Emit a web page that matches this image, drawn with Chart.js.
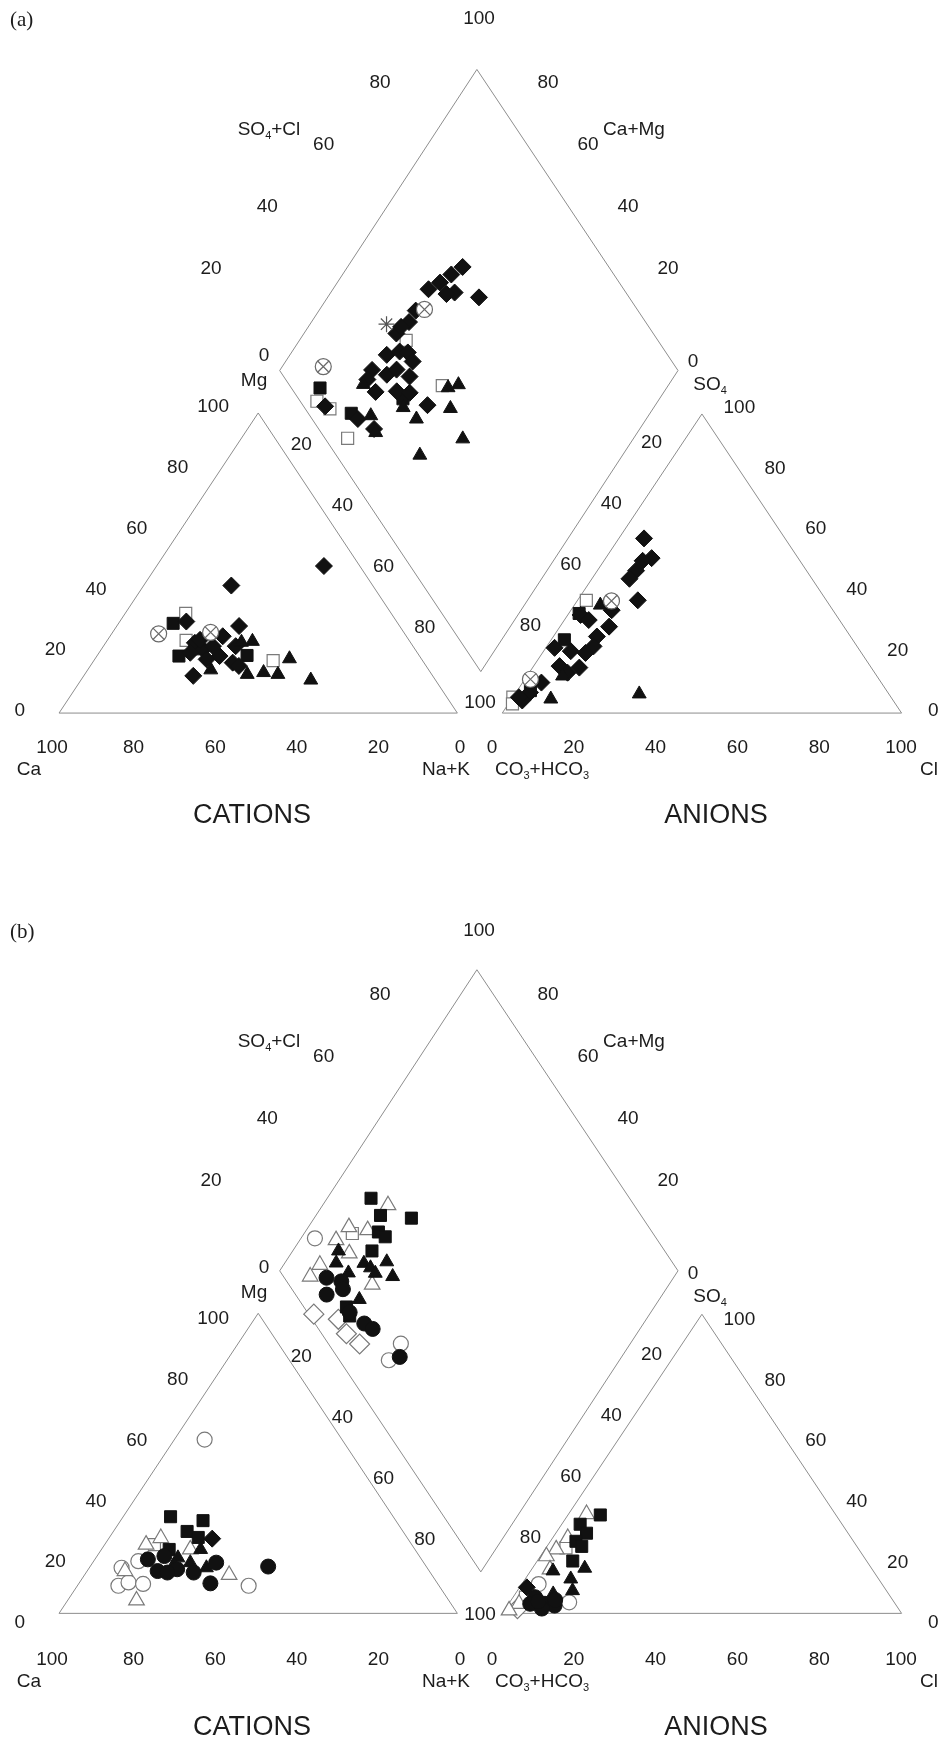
<!DOCTYPE html>
<html lang="en">
<head>
<meta charset="UTF-8" />
<title>Piper diagrams (a) and (b)</title>
<script src="https://cdn.jsdelivr.net/npm/chart.js"></script>
<style>
  * { box-sizing: border-box; margin: 0; padding: 0; }
  html, body { width: 945px; height: 1745px; background: #fff; overflow: hidden; }
  #wrap { position: relative; width: 945px; height: 1745px; }
</style>
</head>
<body>
<div id="wrap"><canvas id="piper" width="945" height="1745"></canvas></div>
<script>
// ---------------- data (percent) ----------------
const tickValues = [0, 20, 40, 60, 80, 100];
const panelNames = ['(a)', '(b)'];

// panel (a) cations: [Na+K, Mg]
const aCatFilledDiamond = [[42, 49], [22, 42.5], [16.7, 30.5], [30.7, 29], [27.5, 12.4], [22.4, 23.4], [25.6, 21.2],
  [27.5, 22.3], [28.3, 25.6], [30.8, 19], [28.1, 17.9], [35.2, 16.8], [37.3, 15.7], [22.9, 20.1], [23.2, 24.4], [33.2, 22.3]];
const aCatFilledSquare = [[13.7, 29.9], [20.6, 19], [37.6, 19.2], [23.4, 21.4]];
const aCatFilledTriangle = [[30.9, 14.4], [40.8, 12.9], [44.6, 13.5], [48.5, 12.9], [48.8, 18.1], [57.7, 11], [36.6, 23.9], [34, 23.6]];
const aCatOpenSquare = [[15.2, 33.2], [19.8, 24.2], [45, 17.5]];
const aCatCircleX = [[11.8, 26.4], [24.6, 26.9]];

// panel (a) anions: [Cl, SO4]
const aAnFilledDiamond = [[6.3, 58.4], [11.5, 51.8], [9.7, 50.9], [9.7, 47.6], [9.4, 44.9], [15.1, 37.7], [10.2, 34.4],
  [3.2, 32.8], [6.1, 31.1], [12.3, 28.9], [10.9, 25.6], [11.7, 22.3], [10.8, 20.1], [2.2, 21.8], [6.8, 20.7],
  [6.5, 15.7], [11.7, 15.2], [9.6, 13.5], [4.7, 10.2], [3.5, 6.9], [2.9, 4.2], [1.5, 5.3]];
const aAnFilledSquare = [[2.6, 33.3], [3.3, 24.5], [3.3, 7.5]];
const aAnFilledTriangle = [[31.1, 6.4], [9.8, 4.7], [8.9, 12.4], [6.5, 36.1]];
const aAnOpenSquare = [[2.2, 37.7], [0, 5.3], [1, 3.1]];
const aAnCircleX = [[8.6, 37.5], [1.4, 11.3]];

// panel (a) diamond field: [SO4+Cl, Ca+Mg]
const aDiaFilledDiamond = [[63.3, 71.1], [59.2, 72.7], [55, 74.2], [51, 76], [57, 68.9], [54.7, 70.7], [62.3, 62],
  [44.2, 75.7], [40.6, 75.5], [35.5, 76.8], [37.8, 76.7], [29.5, 75.7], [33.3, 73], [35.2, 70.8], [34.9, 68.1],
  [23.3, 76.9], [26.2, 72.4], [29.5, 70.8], [31.6, 66.4], [20.5, 76.5], [20.5, 72.4], [25.9, 67.2], [28.9, 63.7],
  [31.3, 57.2], [5.4, 82.7], [11.5, 72.4], [13.9, 66.7]];
const aDiaFilledSquare = [[7.2, 87], [10.8, 75], [26.2, 64.4]];
const aDiaFilledTriangle = [[18.7, 76.7], [15.3, 69.7], [13.7, 65.7], [24.8, 62.9], [26.2, 57.7], [39.4, 54.9],
  [42.5, 52.8], [36.5, 50.9], [34.5, 42.8], [21, 50.9]];
const aDiaOpenSquare = [[4.2, 85.6], [6.2, 81.1], [5.7, 71.8], [38.3, 56.7], [36.8, 73.2]];
const aDiaCircleX = [[11.6, 89.7], [46.6, 73.7]];
const aDiaStar = [[34.6, 80.8]];

// panel (b) cations: [Na+K, Mg]
const bCatFilledSquare = [[11.9, 32.2], [20.7, 30.9], [18.5, 27.3], [22.3, 25.3], [17, 21.3]];
const bCatFilledDiamond = [[26, 24.9]];
const bCatFilledTriangle = [[24.9, 21.3], [20.6, 18.5], [24.5, 16.9], [29.4, 15.2], [20.7, 16.3]];
const bCatFilledCircle = [[44.7, 15.6], [31, 16.9], [33, 10], [27, 13.6], [17.7, 14.1], [13.3, 18], [16.9, 19.1],
  [22.3, 14.7], [20.4, 13.6]];
const bCatOpenTriangle = [[10.4, 22.9], [13, 25.1], [9.5, 14.1], [36.3, 12.8], [17.3, 4.3], [22.3, 21.3]];
const bCatOpenCircle = [[43, 9.2], [10.3, 9.2], [12.3, 10.3], [16.2, 9.8], [11.2, 17.4], [8.1, 15.2], [7.6, 57.9]];
const bCatOpenSquare = [[12.5, 22.9]];

// panel (b) anions: [Cl, SO4]
const bAnFilledSquare = [[8.1, 32.9], [4.6, 29.8], [7.7, 26.8], [6.4, 24.1], [8.7, 22.4], [8.9, 17.5]];
const bAnFilledDiamond = [[1.8, 8.7]];
const bAnFilledTriangle = [[13.1, 15.1], [11.4, 11.5], [13.8, 7.6], [5.6, 14.2], [9.5, 6.5]];
const bAnFilledCircle = [[5.5, 5.4], [9.1, 3.2], [11.8, 2.6], [5.4, 3.2], [9.1, 1.6], [7, 4], [11, 4.5]];
const bAnOpenTriangle = [[4.5, 33.2], [3.8, 25.2], [2.8, 21.4], [1.5, 19.1], [4.6, 14.7], [2.6, 3.2], [1.2, 1]];
const bAnOpenCircle = [[14.9, 3.7], [4.2, 9.8]];
const bAnOpenSquare = [[5, 21.9], [3.1, 5.4]];
const bAnOpenDiamond = [[3, 1.6]];

// panel (b) diamond field: [SO4+Cl, Ca+Mg]
const bDiaFilledSquare = [[35.1, 89], [34.6, 83.8], [41.9, 75.6], [31.3, 81.6], [32.2, 79.1], [26.5, 80.1], [10.7, 77.3], [10, 75]];
const bDiaFilledTriangle = [[18.1, 88.5], [15.5, 87.1], [22.4, 80.1], [23.3, 77.7], [23.6, 75.6], [28.4, 74.6],
  [27.4, 70.7], [16.9, 82.4], [15.2, 75.3]];
const bDiaFilledCircle = [[10.6, 87.1], [13.7, 82.8], [12.8, 81.1], [7.8, 84.3], [12.4, 70.1], [13.6, 67.1], [15.7, 55.7], [10.6, 75.6]];
const bDiaOpenTriangle = [[38.2, 83.6], [24.7, 89.8], [28.9, 84.6], [20.4, 85.4], [11.1, 90.9], [6.7, 91.4], [20.9, 74.5], [19.3, 90.9]];
const bDiaOpenCircle = [[14.3, 96.5], [18.2, 57.6], [12.4, 57.9]];
const bDiaOpenSquare = [[24.5, 87.9]];
const bDiaOpenDiamond = [[1.3, 84.3], [6.6, 77.3], [6.2, 72.9], [7.8, 67.9]];

// ---------------- layout ----------------
const PANEL_SHIFT = [0, 912];
const CAT = { L: [49, 711], R: [457, 711], T: [253, 407] };
const AN = { L: [503, 711], R: [912, 711], T: [707.5, 408] };
const DIA = { B: [481, 669], L: [275, 364], R: [683, 364] };
const LINE = '#8d8d8d';
const INK = '#1c1c1c';
const FONT = '"Liberation Sans", Arial, sans-serif';

// a -> towards right vertex, b -> towards apex, rest -> left vertex
function tern(tri, a, b, dy) {
  const c = 100 - a - b;
  return {
    x: (c * tri.L[0] + a * tri.R[0] + b * tri.T[0]) / 100,
    y: (c * tri.L[1] + a * tri.R[1] + b * tri.T[1]) / 100 + dy
  };
}
// s = SO4+Cl, q = Ca+Mg
function dia(s, q, dy) {
  return {
    x: DIA.B[0] + s / 100 * (DIA.R[0] - DIA.B[0]) + q / 100 * (DIA.L[0] - DIA.B[0]),
    y: DIA.B[1] + s / 100 * (DIA.R[1] - DIA.B[1]) + q / 100 * (DIA.L[1] - DIA.B[1]) + dy
  };
}

const STYLES = {
  filledDiamond: { pointStyle: 'rectRot', radius: 8.5, bg: '#111', border: '#111', bw: 1 },
  filledSquare: { pointStyle: 'rect', radius: 8.5, bg: '#111', border: '#111', bw: 1 },
  filledTriangle: { pointStyle: 'triangle', radius: 8, bg: '#111', border: '#111', bw: 1 },
  filledCircle: { pointStyle: 'circle', radius: 7.5, bg: '#111', border: '#111', bw: 1 },
  openSquare: { pointStyle: 'rect', radius: 8.5, bg: '#fff', border: '#7a7a7a', bw: 1.2 },
  openDiamond: { pointStyle: 'rectRot', radius: 10, bg: '#fff', border: '#7a7a7a', bw: 1.2 },
  openTriangle: { pointStyle: 'triangle', radius: 9, bg: '#fff', border: '#7a7a7a', bw: 1.2 },
  openCircle: { pointStyle: 'circle', radius: 7.5, bg: '#fff', border: '#7a7a7a', bw: 1.2 },
  circleX: { pointStyle: 'circle', radius: 8, bg: '#fff', border: '#6a6a6a', bw: 1.2 },
  cross: { pointStyle: 'crossRot', radius: 8, bg: '#6a6a6a', border: '#6a6a6a', bw: 1.2 },
  star: { pointStyle: 'star', radius: 8, bg: '#555', border: '#555', bw: 1.2 }
};

// drawn top-first
const SERIES = [
  [
    { style: 'star', cat: [], an: [], dia: aDiaStar },
    { style: 'cross', cat: aCatCircleX, an: aAnCircleX, dia: aDiaCircleX },
    { style: 'circleX', cat: aCatCircleX, an: aAnCircleX, dia: aDiaCircleX },
    { style: 'filledTriangle', cat: aCatFilledTriangle, an: aAnFilledTriangle, dia: aDiaFilledTriangle },
    { style: 'filledDiamond', cat: aCatFilledDiamond, an: aAnFilledDiamond, dia: aDiaFilledDiamond },
    { style: 'filledSquare', cat: aCatFilledSquare, an: aAnFilledSquare, dia: aDiaFilledSquare },
    { style: 'openSquare', cat: aCatOpenSquare, an: aAnOpenSquare, dia: aDiaOpenSquare }
  ],
  [
    { style: 'filledCircle', cat: bCatFilledCircle, an: bAnFilledCircle, dia: bDiaFilledCircle },
    { style: 'filledTriangle', cat: bCatFilledTriangle, an: bAnFilledTriangle, dia: bDiaFilledTriangle },
    { style: 'filledSquare', cat: bCatFilledSquare, an: bAnFilledSquare, dia: bDiaFilledSquare },
    { style: 'filledDiamond', cat: bCatFilledDiamond, an: bAnFilledDiamond, dia: [] },
    { style: 'openTriangle', cat: bCatOpenTriangle, an: bAnOpenTriangle, dia: bDiaOpenTriangle },
    { style: 'openSquare', cat: bCatOpenSquare, an: bAnOpenSquare, dia: bDiaOpenSquare },
    { style: 'openCircle', cat: bCatOpenCircle, an: bAnOpenCircle, dia: bDiaOpenCircle },
    { style: 'openDiamond', cat: [], an: bAnOpenDiamond, dia: bDiaOpenDiamond }
  ]
];

const datasets = [];
PANEL_SHIFT.forEach((dy, p) => {
  SERIES[p].forEach(s => {
    const st = STYLES[s.style];
    const pts = [
      ...s.cat.map(d => tern(CAT, d[0], d[1], dy)),
      ...s.an.map(d => tern(AN, d[0], d[1], dy)),
      ...s.dia.map(d => dia(d[0], d[1], dy))
    ];
    datasets.push({
      type: 'scatter', data: pts, pointStyle: st.pointStyle, pointRadius: st.radius,
      backgroundColor: st.bg, borderColor: st.border, borderWidth: st.bw, showLine: false
    });
  });
});

// outlines of the two triangles and the diamond
PANEL_SHIFT.forEach(dy => {
  const frames = [
    [tern(CAT, 0, 0, dy), tern(CAT, 100, 0, dy), tern(CAT, 0, 100, dy), tern(CAT, 0, 0, dy)],
    [tern(AN, 0, 0, dy), tern(AN, 100, 0, dy), tern(AN, 0, 100, dy), tern(AN, 0, 0, dy)],
    [dia(0, 0, dy), dia(100, 0, dy), dia(100, 100, dy), dia(0, 100, dy), dia(0, 0, dy)]
  ];
  frames.forEach(f => datasets.push({
    type: 'line', data: f, borderColor: LINE, borderWidth: 1, pointRadius: 0, fill: false, tension: 0
  }));
});

// text with "_n" subscripts
function drawRich(ctx, str, x, y, size, align) {
  const parts = str.split(/_(\d)/);
  const norm = size + 'px ' + FONT;
  const sub = Math.round(size * 0.6) + 'px ' + FONT;
  let w = 0;
  parts.forEach((t, i) => { ctx.font = i % 2 ? sub : norm; w += ctx.measureText(t).width; });
  let cx = align === 'center' ? x - w / 2 : align === 'right' ? x - w : x;
  ctx.textAlign = 'left';
  ctx.textBaseline = 'middle';
  parts.forEach((t, i) => {
    ctx.font = i % 2 ? sub : norm;
    ctx.fillText(t, cx, y + (i % 2 ? size * 0.32 : 0));
    cx += ctx.measureText(t).width;
  });
}

const UL20 = [211, 269], UL80 = [380, 83];
const UR20 = [668, 269], UR80 = [548, 83];

const textPlugin = {
  id: 'piperText',
  afterDraw(chart) {
    const ctx = chart.ctx;
    ctx.save();
    ctx.fillStyle = INK;
    PANEL_SHIFT.forEach((dy, p) => {
      ctx.font = '21px "Liberation Serif", "Times New Roman", serif';
      ctx.textAlign = 'left';
      ctx.textBaseline = 'middle';
      ctx.fillText(panelNames[p], 10, 20 + dy);
      const T = (s, x, y, align = 'center', size = 19) => drawRich(ctx, s, x, y + dy, size, align);

      tickValues.forEach(v => {
        const lab = String(v);
        const m = tern(CAT, 0, v, 0); T(lab, m.x - 24, m.y, 'right');
        const c = tern(CAT, 100 - v, 0, 0); T(lab, c.x + 3, c.y + 37);
        const a = tern(AN, v, 0, 0); T(lab, a.x - 11, a.y + 37);
        const r = tern(AN, 100 - v, v, 0); T(lab, r.x + 16, r.y, 'left');
        if (v > 0 && v < 100) {
          const ll = dia(0, 100 - v, 0); T(lab, ll.x - 15, ll.y + 20);
          const lr = dia(100 - v, 0, 0); T(lab, lr.x + 9, lr.y + 18);
          const f = (v - 20) / 60;
          T(lab, UL20[0] + f * (UL80[0] - UL20[0]), UL20[1] + f * (UL80[1] - UL20[1]));
          T(lab, UR20[0] + f * (UR80[0] - UR20[0]), UR20[1] + f * (UR80[1] - UR20[1]));
        }
      });
      T('100', 479, 19);
      T('0', 264, 356);
      T('Mg', 254, 381);
      T('0', 693, 362);
      T('SO_4', 710, 385);
      T('100', 480, 703);
      T('SO_4+Cl', 269, 130);
      T('Ca+Mg', 634, 130);
      T('Ca', 29, 770);
      T('Na+K', 446, 770);
      T('CO_3+HCO_3', 542, 770);
      T('Cl', 929, 770);
      T('CATIONS', 252, 816, 'center', 27);
      T('ANIONS', 716, 816, 'center', 27);
    });
    ctx.restore();
  }
};

new Chart(document.getElementById('piper'), {
  type: 'scatter',
  data: { datasets },
  options: {
    responsive: false,
    devicePixelRatio: 1,
    animation: false,
    layout: { padding: 0 },
    plugins: { legend: { display: false }, tooltip: { enabled: false } },
    scales: {
      x: { type: 'linear', min: 0, max: 945, display: false },
      y: { type: 'linear', min: 0, max: 1745, reverse: true, display: false }
    }
  },
  plugins: [textPlugin]
});
</script>
</body>
</html>
